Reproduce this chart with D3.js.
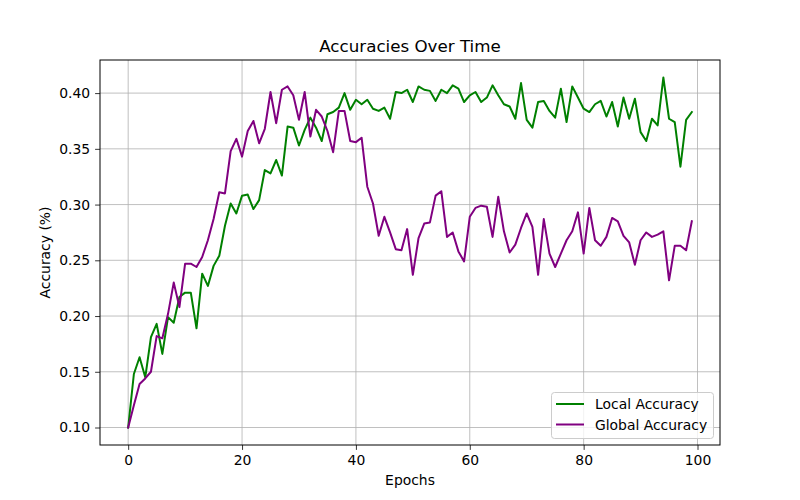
<!DOCTYPE html>
<html>
<head>
<meta charset="utf-8">
<script src="https://cdn.jsdelivr.net/npm/d3@7"></script>
<style>
  body { margin: 0; background: #fff; }
  text { font-family: "DejaVu Sans", sans-serif; fill: #000; }
</style>
</head>
<body>
<div id="chart"></div>
<script>
// accuracies per epoch
var localAcc = [0.100, 0.148, 0.163, 0.145, 0.181, 0.193, 0.166, 0.199, 0.194, 0.217,
    0.221, 0.221, 0.189, 0.238, 0.227, 0.245, 0.254, 0.281, 0.301, 0.292,
    0.308, 0.309, 0.296, 0.304, 0.331, 0.328, 0.340, 0.326, 0.370, 0.369,
    0.353, 0.367, 0.378, 0.369, 0.357, 0.381, 0.383, 0.387, 0.400, 0.385,
    0.394, 0.390, 0.394, 0.386, 0.384, 0.387, 0.377, 0.401, 0.400, 0.403,
    0.392, 0.406, 0.403, 0.402, 0.393, 0.403, 0.400, 0.407, 0.404, 0.392,
    0.398, 0.401, 0.392, 0.396, 0.407, 0.398, 0.390, 0.388, 0.377, 0.409,
    0.376, 0.369, 0.392, 0.393, 0.384, 0.378, 0.404, 0.374, 0.406, 0.396,
    0.386, 0.383, 0.390, 0.393, 0.379, 0.392, 0.370, 0.396, 0.377, 0.395,
    0.365, 0.357, 0.377, 0.371, 0.414, 0.377, 0.374, 0.334, 0.376, 0.383];

var globalAcc = [0.100, 0.120, 0.139, 0.144, 0.150, 0.182, 0.180, 0.202, 0.230, 0.208,
    0.247, 0.247, 0.244, 0.253, 0.268, 0.287, 0.311, 0.310, 0.348, 0.359,
    0.343, 0.366, 0.375, 0.355, 0.368, 0.401, 0.373, 0.403, 0.406, 0.398,
    0.376, 0.401, 0.361, 0.385, 0.379, 0.366, 0.347, 0.384, 0.384, 0.357,
    0.356, 0.360, 0.316, 0.301, 0.272, 0.289, 0.275, 0.260, 0.259, 0.278,
    0.237, 0.270, 0.283, 0.284, 0.308, 0.312, 0.271, 0.275, 0.258, 0.249,
    0.289, 0.297, 0.299, 0.298, 0.271, 0.307, 0.276, 0.257, 0.264, 0.279,
    0.292, 0.280, 0.237, 0.287, 0.256, 0.244, 0.256, 0.268, 0.276, 0.293,
    0.256, 0.297, 0.268, 0.263, 0.271, 0.288, 0.285, 0.272, 0.266, 0.246,
    0.268, 0.275, 0.271, 0.273, 0.276, 0.232, 0.263, 0.263, 0.259, 0.285];

var xTicks = [0, 20, 40, 60, 80, 100];
var yTicks = [0.10, 0.15, 0.20, 0.25, 0.30, 0.35, 0.40];

var seriesNames = ["Local Accuracy", "Global Accuracy"];
var colors = ["green", "purple"];

let width = 800;
let height = 500;
let margin = {left: 100, right: 80, top: 60, bottom: 55};

let svg = d3.select("#chart").append("svg")
    .attr("width", width)
    .attr("height", height);

let epochs = localAcc.map((_, i) => i);

// matplotlib style 5% margins
let xPad = 0.05 * (epochs.length - 1);
let allVals = localAcc.concat(globalAcc);
let yMin = d3.min(allVals), yMax = d3.max(allVals);
let yPad = 0.05 * (yMax - yMin);

let x = d3.scaleLinear()
    .domain([-xPad, epochs.length - 1 + xPad])
    .range([margin.left, width - margin.right]);

let y = d3.scaleLinear()
    .domain([yMin - yPad, yMax + yPad])
    .range([height - margin.bottom, margin.top]);

// grid
svg.append("g").selectAll("line")
    .data(xTicks)
    .join("line")
    .attr("x1", d => x(d)).attr("x2", d => x(d))
    .attr("y1", margin.top).attr("y2", height - margin.bottom)
    .attr("stroke", "#b0b0b0").attr("stroke-width", 0.8);

svg.append("g").selectAll("line")
    .data(yTicks)
    .join("line")
    .attr("x1", margin.left).attr("x2", width - margin.right)
    .attr("y1", d => y(d)).attr("y2", d => y(d))
    .attr("stroke", "#b0b0b0").attr("stroke-width", 0.8);

// axes
let xAxis = svg.append("g")
    .attr("transform", `translate(0,${height - margin.bottom})`)
    .call(d3.axisBottom(x).tickValues(xTicks).tickSize(4.9).tickPadding(4.9).tickFormat(d3.format("d")));

let yAxis = svg.append("g")
    .attr("transform", `translate(${margin.left},0)`)
    .call(d3.axisLeft(y).tickValues(yTicks).tickSize(4.9).tickPadding(4.9).tickFormat(d3.format(".2f")));

[xAxis, yAxis].forEach(a => {
    a.select(".domain").remove();
    a.selectAll("line").attr("stroke", "#000").attr("stroke-width", 0.8);
    a.selectAll("text").attr("font-family", "DejaVu Sans").attr("font-size", "13.9px").attr("fill", "#000");
});

// lines
let line = d3.line()
    .x((d, i) => x(i))
    .y(d => y(d));

[localAcc, globalAcc].forEach((s, k) => {
    svg.append("path")
        .datum(s)
        .attr("d", line)
        .attr("fill", "none")
        .attr("stroke", colors[k])
        .attr("stroke-width", 2)
        .attr("stroke-linejoin", "round")
        .attr("stroke-linecap", "square");
});

// frame
svg.append("rect")
    .attr("x", margin.left).attr("y", margin.top)
    .attr("width", width - margin.left - margin.right)
    .attr("height", height - margin.top - margin.bottom)
    .attr("fill", "none").attr("stroke", "#000").attr("stroke-width", 1);

// title and labels
svg.append("text")
    .attr("x", (margin.left + width - margin.right) / 2).attr("y", 52)
    .attr("text-anchor", "middle").style("font-size", "16.7px")
    .text("Accuracies Over Time");

svg.append("text")
    .attr("x", (margin.left + width - margin.right) / 2).attr("y", 485)
    .attr("text-anchor", "middle").style("font-size", "13.9px")
    .text("Epochs");

svg.append("text")
    .attr("transform", `translate(50,${(margin.top + height - margin.bottom) / 2}) rotate(-90)`)
    .attr("text-anchor", "middle").style("font-size", "13.9px")
    .text("Accuracy (%)");

// legend
let legend = svg.append("g");
legend.append("rect")
    .attr("x", 551.5).attr("y", 392.5).attr("width", 162).attr("height", 46)
    .attr("rx", 3).attr("fill", "#fff").attr("fill-opacity", 0.8)
    .attr("stroke", "#cccccc").attr("stroke-width", 1);

seriesNames.forEach((name, k) => {
    let ly = 404 + k * 20.5;
    legend.append("line")
        .attr("x1", 556).attr("x2", 584).attr("y1", ly).attr("y2", ly)
        .attr("stroke", colors[k]).attr("stroke-width", 2);
    legend.append("text")
        .attr("x", 595).attr("y", ly + 5)
        .style("font-size", "13.9px")
        .text(name);
});
</script>
</body>
</html>
